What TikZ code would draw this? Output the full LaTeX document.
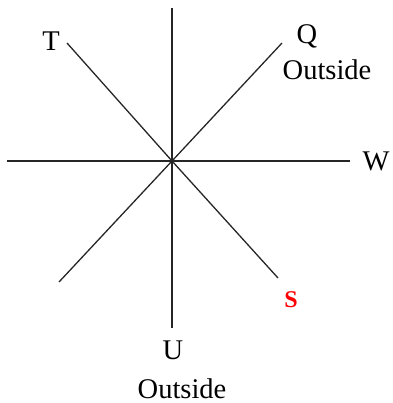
\documentclass[tikz,border=0pt]{standalone}
\usepackage{fontspec}
\setmainfont{Liberation Serif}
\begin{document}
\begin{tikzpicture}[x=1pt,y=-1pt,
  axis/.style={draw=black!85,line width=1.3pt},
  lbl/.style={inner sep=0pt,font=\fontsize{28.5}{30}\selectfont},
  redlbl/.style={inner sep=0pt,text=red,font=\fontsize{24}{26}\selectfont\bfseries}]
\useasboundingbox (0,0) rectangle (392,403);
\coordinate (O) at (172,161);
\coordinate (N) at (172,8);
\coordinate (Sv) at (172,328);
\coordinate (Wl) at (7,161);
\coordinate (Er) at (350,161);
\coordinate (TL) at (67,43);
\coordinate (BR) at (278,278);
\coordinate (TR) at (282,43);
\coordinate (BL) at (59,282);
\draw[axis] (N) -- (Sv);
\draw[axis] (Wl) -- (Er);
\draw[axis] (TL) -- (O) -- (BR);
\draw[axis] (TR) -- (O) -- (BL);
\node[lbl] (t) at (51,41) {T};
\node[lbl] (q) at (307,36) {Q};
\node[lbl,anchor=base] (qo) at (327,80) {Outside};
\node[lbl] (w) at (376,161) {W};
\node[redlbl] (s) at (291,300) {S};
\node[lbl] (u) at (173,350) {U};
\node[lbl,anchor=base,text depth=0pt] (uo) at (182,398) {Outside};
\end{tikzpicture}
\end{document}
